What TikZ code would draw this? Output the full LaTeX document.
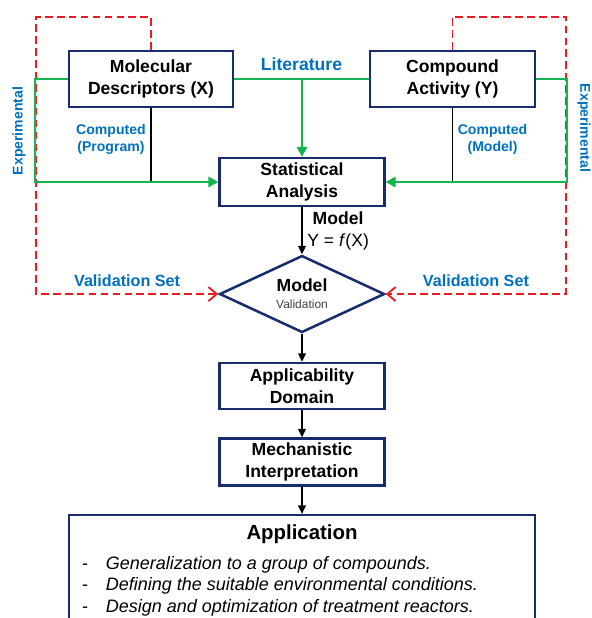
\documentclass[tikz,border=0pt]{standalone}
\usepackage{fontspec}
\setmainfont{Liberation Sans}
\usetikzlibrary{shapes.geometric, arrows.meta, positioning, calc}
\definecolor{boxblue}{RGB}{25,45,110}
\definecolor{labelblue}{RGB}{0,112,192}
\definecolor{litgreen}{RGB}{20,180,80}
\definecolor{valred}{RGB}{230,30,35}
\definecolor{subgray}{RGB}{64,64,64}

\begin{document}
\begin{tikzpicture}[
    node distance=0.7cm,
    process/.style={rectangle, draw=boxblue, line width=1.8pt, minimum width=4.125cm, minimum height=1.2cm, align=center, inner sep=1pt, font=\fontsize{12.5}{15.4}\selectfont\bfseries},
    source/.style={process, minimum height=1.4cm},
    decision/.style={diamond, aspect=2.14, draw=boxblue, line width=1.8pt, minimum width=4.125cm, minimum height=1.925cm, align=center, inner sep=0pt, font=\fontsize{12.5}{12}\selectfont},
    appbox/.style={rectangle, draw=boxblue, line width=1.8pt, minimum width=11.65cm, minimum height=4cm},
    bluelabel/.style={text=labelblue, align=center, font=\fontsize{10}{12}\selectfont\bfseries},
    arr/.style={-{Triangle[length=6pt,width=5.5pt]}, line width=0.9pt},
    garr/.style={-{Triangle[length=7pt,width=7.5pt]}, draw=litgreen, line width=1.2pt},
    gline/.style={draw=litgreen, line width=1.2pt},
    varr/.style={-{Straight Barb[length=6pt,width=10pt]}, draw=valred, line width=1.3pt, dash pattern=on 5.5pt off 3pt}
]
\useasboundingbox (0,0) rectangle (14.775,-15.45);

\node[source, minimum width=4.1cm] (mol) at (3.775,-1.975) {Molecular\\Descriptors (X)};
\node[source] (comp) at (11.3125,-1.975) {Compound\\Activity (Y)};
\node[process] (stat) at (7.55,-4.55) {Statistical\\Analysis};
\node[decision, below=1.175cm of stat] (valid) {\textbf{Model}\\{\fontsize{8.5}{10}\selectfont\color{subgray}Validation}};
\node[process, minimum height=1.15cm, below=of valid] (domain) {Applicability\\Domain};
\node[process, minimum height=1.175cm, below=0.675cm of domain] (mech) {Mechanistic\\Interpretation};
\node[appbox, below=0.675cm of mech] (app) {};
\node[anchor=base, font=\fontsize{14.5}{16}\selectfont\bfseries] (apptitle) at ([yshift=-0.64cm]app.north) {Application};
\node[anchor=base west, inner sep=0pt, font=\fontsize{12.8}{15.3}\selectfont] (applist) at ([xshift=0.35cm,yshift=-1.38cm]app.north west)
    {\begin{tabular}[t]{@{}p{17pt}@{}l@{}}
     - & \textit{Generalization to a group of compounds.}\\
     - & \textit{Defining the suitable environmental conditions.}\\
     - & \textit{Design and optimization of treatment reactors.}
     \end{tabular}};

% validation sets
\draw[varr] (mol.north) -- ++(0,0.825) -- ++(-2.875,0) |- node[pos=0.75, above=1pt, bluelabel, font=\fontsize{11.5}{13}\selectfont\bfseries] (vsx) {Validation Set} (valid.west);
\draw[varr] (comp.north) -- ++(0,0.825) -- ++(2.8375,0) |- node[pos=0.75, above=1pt, bluelabel, font=\fontsize{11.5}{13}\selectfont\bfseries] (vsy) {Validation Set} (valid.east);

% data sources
\draw[line width=0.9pt] (mol.south) -- node[pos=0.42, left, bluelabel] (compx) {Computed\\(Program)} (mol.south |- stat.west);
\draw[line width=0.9pt] (comp.south) -- node[pos=0.42, right, bluelabel] (compy) {Computed\\(Model)} (comp.south |- stat.east);
\draw[gline] (mol.east) -- node[above=2pt, bluelabel, font=\fontsize{12.5}{14}\selectfont\bfseries] (lit) {Literature} (comp.west);
\draw[garr] (mol.east -| stat.north) -- (stat.north);
\draw[garr] (mol.west) -- ++(-0.825,0) |- (stat.west);
\draw[garr] (comp.east) -- ++(0.775,0) |- (stat.east);
\node[bluelabel, rotate=90] (expx) at (0.475,-3.275) {Experimental};
\node[bluelabel, rotate=-90] (expy) at (14.6,-3.2) {Experimental};

% main chain
\draw[arr] (stat) -- node[right, align=center, font=\fontsize{12.5}{15.6}\selectfont] (eq) {\textbf{Model}\\Y = \textit{f}(X)} (valid);
\draw[arr] (valid) -- (domain);
\draw[arr] (domain) -- (mech);
\draw[arr] (mech) -- (app);

\end{tikzpicture}
\end{document}
